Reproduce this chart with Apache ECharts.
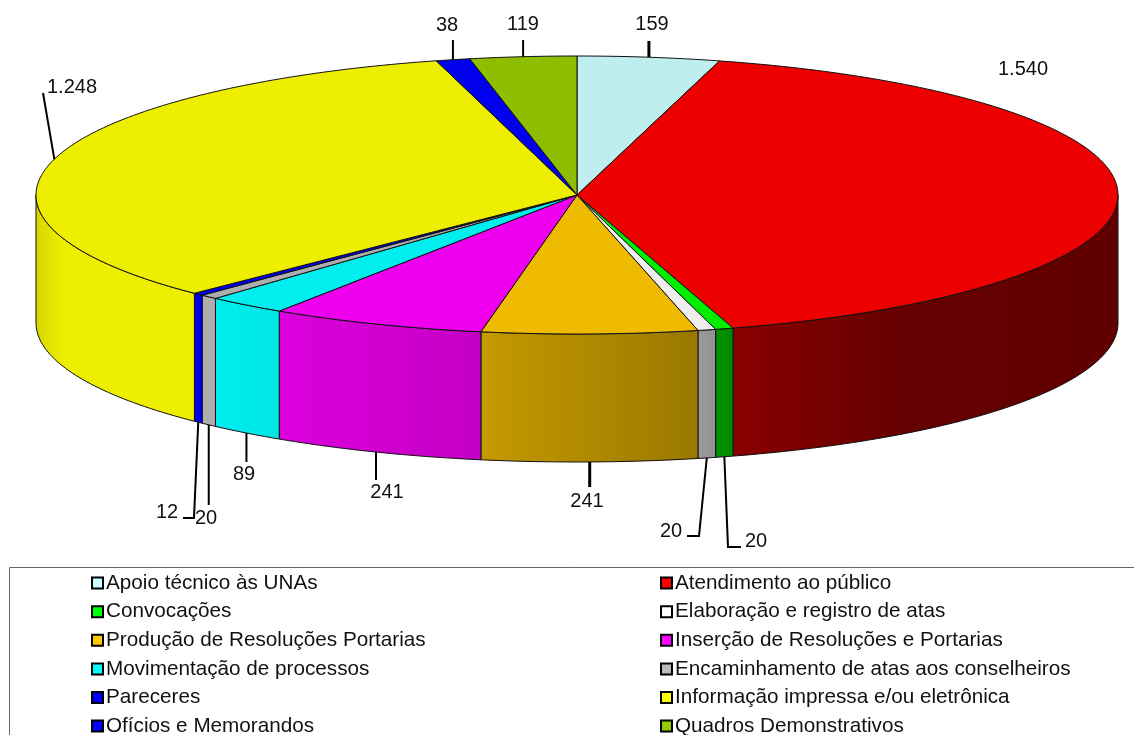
<!DOCTYPE html>
<html><head><meta charset="utf-8">
<style>html,body{margin:0;padding:0;background:#fff}#c{width:1134px;height:735px}</style>
<script src="https://cdn.jsdelivr.net/npm/echarts@6/dist/echarts.min.js"></script>
</head><body><div id="c"></div>
<script>
var categories = ["Apoio técnico às UNAs","Atendimento ao público","Convocações","Elaboração e registro de atas","Produção de Resoluções Portarias","Inserção de Resoluções e Portarias","Movimentação de processos","Encaminhamento de atas aos conselheiros","Pareceres","Informação impressa e/ou eletrônica","Ofícios e Memorandos","Quadros Demonstrativos"];
var values = [159,1540,20,20,241,241,89,20,12,1248,38,119];
var valueLabels = ["159","1.540","20","20","241","241","89","20","12","1.248","38","119"];
var colors = ["#ccffff","#ff0000","#00ff00","#ffffff","#ffc800","#ff00ff","#00ffff","#bbbbbb","#0000ff","#ffff00","#0000ff","#99cc00"];

// Layout (pixels), separate from the data
var CX=577, CY=195, RX=541, RY=139, DEPTH=128, FONT='"Liberation Sans", Arial, sans-serif', FS=20, LFS=20.7;
var TOP_SHADE=0.933;
var shadeStops=[[36,.84],[62,.933],[200,.933],[240,.92],[278,.90],[280,.86],[480,.77],[700,.60],[735,.54],[900,.40],[1118,.375]];
// label centre, leader bend points after the pie edge, leader width
var labelLayout=[
 {t:[652,24.5], p:[[null,41]], w:3},
 {t:[1023,69.5], p:null},
 {t:[756,541.5], p:[[728,547],[741,547]], w:2},
 {t:[671,531.5], p:[[699,536],[687,536]], w:2},
 {t:[587,501.5], p:[[null,487]], w:3},
 {t:[387,492.5], p:[[null,480]], w:2},
 {t:[244,474.5], p:[[null,462]], w:2},
 {t:[206,518.5], p:[[null,505]], w:2},
 {t:[167,512.5], p:[[194,518],[183,518]], w:2},
 {t:[72,87.5],  p:[[43,93]], w:2},
 {t:[447,25.5], p:[[null,40]], w:2},
 {t:[523,24.5], p:[[null,40]], w:2}
];

var total=values.reduce(function(a,b){return a+b;},0);
function shadeAt(x){
  for(var i=1;i<shadeStops.length;i++){
    if(x<=shadeStops[i][0]){
      var a=shadeStops[i-1],b=shadeStops[i];
      return a[1]+(b[1]-a[1])*Math.max(0,(x-a[0]))/(b[0]-a[0]);
    }
  }
  return shadeStops[shadeStops.length-1][1];
}
function mul(hex,f){
  var n=parseInt(hex.slice(1),16);
  return 'rgb('+Math.round((n>>16&255)*f)+','+Math.round((n>>8&255)*f)+','+Math.round((n&255)*f)+')';
}
function pt(deg,dy){
  var r=deg*Math.PI/180;
  return [CX+RX*Math.sin(r),CY-RY*Math.cos(r)+(dy||0)];
}
function arc(a0,a1,dy){
  var n=Math.max(2,Math.ceil(Math.abs(a1-a0)/1)),out=[];
  for(var i=0;i<=n;i++) out.push(pt(a0+(a1-a0)*i/n,dy));
  return out;
}
function renderSlice(idx){
  return function(params,api){
    var before=0; for(var i=0;i<idx;i++) before+=values[i];
    var v=api.value(0);
    var a0=before/total*360, a1=(before+v)/total*360, mid=(a0+a1)/2;
    var kids=[], base=colors[idx];
    // front wall, only the part of the rim facing the viewer
    var s0=Math.max(a0,90), s1=Math.min(a1,270);
    if(s1>s0){
      var top=arc(s0,s1,0), bot=arc(s1,s0,DEPTH);
      var x0=Math.min(pt(s0)[0],pt(s1)[0]), x1=Math.max(pt(s0)[0],pt(s1)[0]);
      if(s0<90.01) x1=CX+RX;
      if(s1>269.99) x0=CX-RX;
      var stops=[],K=12;
      for(var k=0;k<=K;k++){
        stops.push({offset:k/K,color:mul(base,shadeAt(x0+(x1-x0)*k/K))});
      }
      kids.push({type:'polygon',shape:{points:top.concat(bot)},
        style:{fill:{type:'linear',x:x0,y:0,x2:x1,y2:0,global:true,colorStops:stops},stroke:'#111',lineWidth:1}});
    }
    // top face
    kids.push({type:'polygon',shape:{points:[[CX,CY]].concat(arc(a0,a1,0))},
      style:{fill:mul(base,TOP_SHADE),stroke:'#111',lineWidth:1}});
    // leader and value label
    var L=labelLayout[idx];
    if(L.p){
      var front=Math.cos(mid*Math.PI/180)<0;
      var st=pt(mid,front?DEPTH:0);
      var pts=[st].concat(L.p.map(function(q){return [q[0]===null?st[0]:q[0],q[1]];}));
      kids.push({type:'polyline',shape:{points:pts},style:{fill:null,stroke:'#000',lineWidth:L.w}});
    }
    kids.push({type:'text',style:{text:valueLabels[idx],x:L.t[0],y:L.t[1],align:'center',verticalAlign:'middle',
      font:FS+'px '+FONT,fill:'#111'}});
    return {type:'group',children:kids};
  };
}
var series=categories.map(function(name,i){
  return {type:'custom',name:name,coordinateSystem:'none',silent:true,animation:false,
    itemStyle:{color:colors[i]},data:[[values[i]]],renderItem:renderSlice(i),clip:false};
});
function legend(names,left){
  return {show:true,orient:'vertical',left:left,top:572.6,height:400,padding:0,itemWidth:11,itemHeight:11,itemGap:7.6,selectedMode:false,
    itemStyle:{borderColor:'#000',borderWidth:2},
    textStyle:{fontFamily:FONT,fontSize:LFS,color:'#111',padding:[0,0,0,-2],lineHeight:21},
    data:names.map(function(n){return {name:n,icon:'rect'};})};
}
var chart=echarts.init(document.getElementById('c'),null,{renderer:'canvas'});
chart.setOption({
  animation:false,backgroundColor:'#fff',
  legend:[legend(categories.filter(function(_,i){return i%2===0;}),91),
          legend(categories.filter(function(_,i){return i%2===1;}),660)],
  graphic:[{type:'rect',silent:true,z:-1,shape:{x:9.5,y:567.5,width:1200,height:300},style:{fill:null,stroke:'#666',lineWidth:1}}],
  series:series
});
</script></body></html>
